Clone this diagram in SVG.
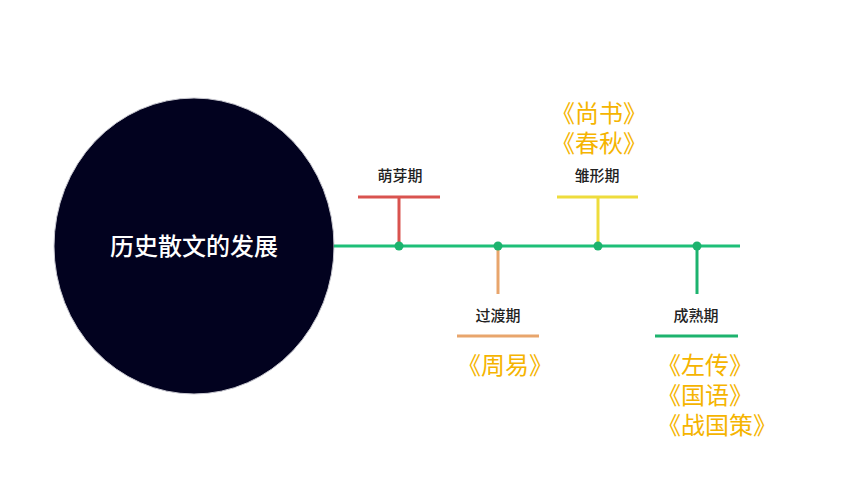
<svg xmlns="http://www.w3.org/2000/svg" width="860" height="484" viewBox="0 0 860 484">
<style>
.lbl{font-family:"Noto Sans CJK SC","Noto Sans",sans-serif;font-size:15px;font-weight:500;fill:#222;text-anchor:middle}
.book{font-family:"Noto Sans CJK SC","Noto Sans",sans-serif;font-size:24px;font-weight:400;fill:#f5b400}
.ln{stroke-width:3;fill:none;stroke-linecap:butt}
.dot{fill:#1db36e}
</style>
<rect width="860" height="484" fill="#fff"/>
<g id="center">
<ellipse cx="194" cy="246" rx="140" ry="148" fill="#02021f" stroke="#c8c8d0" stroke-width="1"/>
<text x="194" y="255" font-family="Noto Sans CJK SC,sans-serif" font-size="24" font-weight="500" fill="#fff" text-anchor="middle">历史散文的发展</text>
</g>
<g id="connectors">
<line class="ln" x1="334" y1="246" x2="740" y2="246" stroke="#1ebf78"/>
<line class="ln" x1="399" y1="197" x2="399" y2="246" stroke="#d9534f"/>
<line class="ln" x1="358" y1="197" x2="440" y2="197" stroke="#d9534f"/>
<line class="ln" x1="598" y1="197" x2="598" y2="246" stroke="#eedc3c"/>
<line class="ln" x1="557" y1="197" x2="638" y2="197" stroke="#eedc3c"/>
<line class="ln" x1="498" y1="246" x2="498" y2="294" stroke="#e8a56c"/>
<line class="ln" x1="457" y1="336" x2="539" y2="336" stroke="#e8a56c"/>
<line class="ln" x1="697" y1="246" x2="697" y2="294" stroke="#1db36e"/>
<line class="ln" x1="655" y1="336" x2="738" y2="336" stroke="#1db36e"/>
<circle class="dot" cx="399" cy="246" r="4.5"/>
<circle class="dot" cx="498" cy="246" r="4.5"/>
<circle class="dot" cx="598" cy="246" r="4.5"/>
<circle class="dot" cx="697" cy="246" r="4.5"/>
</g>
<g id="stage1">
<text class="lbl" x="400" y="181">萌芽期</text>
</g>
<g id="stage2">
<text class="lbl" x="498" y="321">过渡期</text>
<text class="book" x="457" y="374">《周易》</text>
</g>
<g id="stage3">
<text class="lbl" x="597" y="181">雏形期</text>
<text class="book"><tspan x="551" y="122">《尚书》</tspan><tspan x="551" y="152">《春秋》</tspan></text>
</g>
<g id="stage4">
<text class="lbl" x="696" y="321">成熟期</text>
<text class="book"><tspan x="657" y="374">《左传》</tspan><tspan x="657" y="404">《国语》</tspan><tspan x="657" y="434">《战国策》</tspan></text>
</g>
</svg>
